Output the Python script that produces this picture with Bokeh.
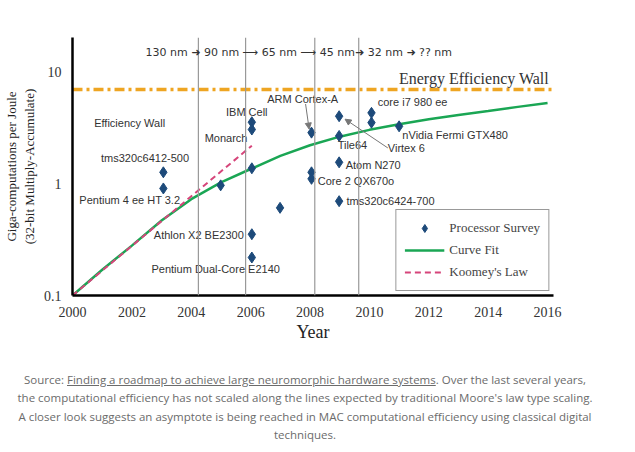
from bokeh.plotting import figure
from bokeh.models import Div, Range1d, FixedTicker, Arrow, NormalHead, Span, Legend, LegendItem, Label
from bokeh.layouts import column
from bokeh.core.properties import value
from bokeh.embed import file_html
from bokeh.resources import INLINE

survey_x = [2003.06, 2003.06, 2004.99, 2006.04, 2006.04, 2006.04, 2006.04, 2006.04, 2006.99,
            2008.05, 2008.05, 2008.05, 2008.98, 2008.98, 2008.98, 2008.98, 2010.07, 2010.07, 2011.0]
survey_y = [1.27, 0.91, 0.97, 3.57, 3.07, 1.38, 0.354, 0.219, 0.61,
            2.88, 1.27, 1.11, 4.04, 2.69, 1.56, 0.70, 4.33, 3.54, 3.28]
fit_x = list(range(2000, 2017))
fit_y = [0.1, 0.17, 0.28, 0.47, 0.73, 1.03, 1.36, 1.78, 2.22, 2.65, 3.05, 3.42, 3.8, 4.15, 4.5, 4.9, 5.3]
koomey_x = [2000, 2006.04]
koomey_y = [0.1, 2.2]
wall_y = 7.0
node_years = [2004.24, 2005.83, 2008.16, 2009.64]
labels = ["Efficiency Wall", "tms320c6412-500", "Pentium 4 ee HT 3.2", "Athlon X2 BE2300",
          "Pentium Dual-Core E2140", "Monarch", "IBM Cell", "ARM Cortex-A", "core i7 980 ee",
          "nVidia Fermi GTX480", "Tile64", "Virtex 6", "Atom N270", "Core 2 QX670o", "tms320c6424-700"]
label_x = [2000.73, 2000.96, 2000.23, 2002.74, 2002.66, 2004.45, 2005.17, 2006.56, 2010.28,
           2011.11, 2008.93, 2010.62, 2009.2, 2008.26, 2009.23]
label_y = [3.5, 1.7, 0.71, 0.35, 0.173, 2.56, 4.38, 5.77, 5.38, 2.75, 2.23, 2.08, 1.48, 1.06, 0.70]

p = figure(width=615, height=350, y_axis_type="log", output_backend="svg", toolbar_location=None,
           x_range=Range1d(2000, 2016.2), y_range=Range1d(0.1, 20.5),
           min_border_left=72, min_border_right=62, min_border_top=37, min_border_bottom=55)
p.outline_line_color = None
p.grid.visible = False
p.xaxis.ticker = FixedTicker(ticks=list(range(2000, 2017, 2)))
p.yaxis.ticker = FixedTicker(ticks=[0.1, 1, 10])
p.yaxis.major_label_overrides = {0.1: "0.1", 1: "1", 10: "10"}
for ax in (p.xaxis, p.yaxis):
    ax.axis_line_width = 2.5
    ax.axis_line_color = "black"
    ax.major_label_text_font = "Liberation Serif"
    ax.major_label_text_font_size = "14px"
    ax.major_label_text_color = "#333333"
    ax.minor_tick_line_color = None
    ax.major_tick_line_color = None
    ax.axis_label_text_font = "Liberation Serif"
    ax.axis_label_text_font_style = "normal"
    ax.axis_label_text_color = "#222222"
p.xaxis.axis_label = "Year"
p.xaxis.axis_label_text_font_size = "18px"
p.xaxis.axis_label_standoff = 2
p.yaxis.axis_label = "Giga-computations per Joule\n(32-bit Multiply-Accumulate)"
p.yaxis.axis_label_text_font_size = "13px"
p.yaxis.axis_label_standoff = 4

for yr in node_years:
    p.add_layout(Span(location=yr, dimension="height", line_color="#999999", line_width=1.2))
p.line([2000, 2016.2], [wall_y, wall_y], line_color="#eea522", line_width=3.5, line_dash="10 4 3 4")

fit = p.line(fit_x, fit_y, line_color="#1aa654", line_width=2.5)
koo = p.line(koomey_x, koomey_y, line_color="#d6457a", line_width=2, line_dash="6 4")
sur = p.scatter(survey_x, survey_y, marker="diamond", size=11, color="#1d4a7a")

p.text(label_x, label_y, text=labels, text_font_size="11px", text_color="#333333",
       text_baseline="middle", text_font=value("Liberation Sans"))
p.add_layout(Label(x=2016.05, y=8.8, text="Energy Efficiency Wall", text_align="right",
                   text_baseline="middle", text_font="Liberation Serif", text_font_size="16px",
                   text_color="#333333"))
p.add_layout(Label(x=2007.62, y=15.1, text="130 nm \u279c 90 nm \u27f6 65 nm \u27f6 45 nm\u279c 32 nm \u279c ?? nm",
                   text_align="center", text_baseline="middle", text_font="DejaVu Sans",
                   text_font_size="11px", text_color="#333333"))
p.add_layout(Arrow(x_start=2007.85, y_start=5.2, x_end=2007.97, y_end=3.1, line_color="#777777",
                   line_width=1, end=NormalHead(size=6, fill_color="#777777", line_color="#777777")))
p.add_layout(Arrow(x_start=2010.62, y_start=2.1, x_end=2009.18, y_end=3.8, line_color="#777777",
                   line_width=1, end=NormalHead(size=6, fill_color="#777777", line_color="#777777")))

legend = Legend(items=[LegendItem(label="Processor Survey", renderers=[sur]),
                       LegendItem(label="Curve Fit", renderers=[fit]),
                       LegendItem(label="Koomey's Law", renderers=[koo])],
                location="bottom_right", label_text_font="Liberation Serif", label_text_font_size="13px",
                border_line_color="#333333", border_line_width=1.2, padding=8, spacing=2,
                margin=4, glyph_width=40)
p.add_layout(legend)

cap = Div(width=610, text=(
    '<div style="text-align:center;font-family:\'Open Sans\',sans-serif;font-size:11.5px;'
    'color:#6b6b6b;line-height:1.6;width:580px;margin-left:10px">Source: <u>Finding a roadmap to achieve large '
    'neuromorphic hardware systems</u>. Over the last several years, the computational efficiency '
    'has not scaled along the lines expected by traditional Moore\'s law type scaling. A closer look '
    'suggests an asymptote is being reached in MAC computational efficiency using classical digital '
    'techniques.</div>'))
layout = column(p, cap, spacing=16)
open("out.html", "w").write(file_html(layout, INLINE))
